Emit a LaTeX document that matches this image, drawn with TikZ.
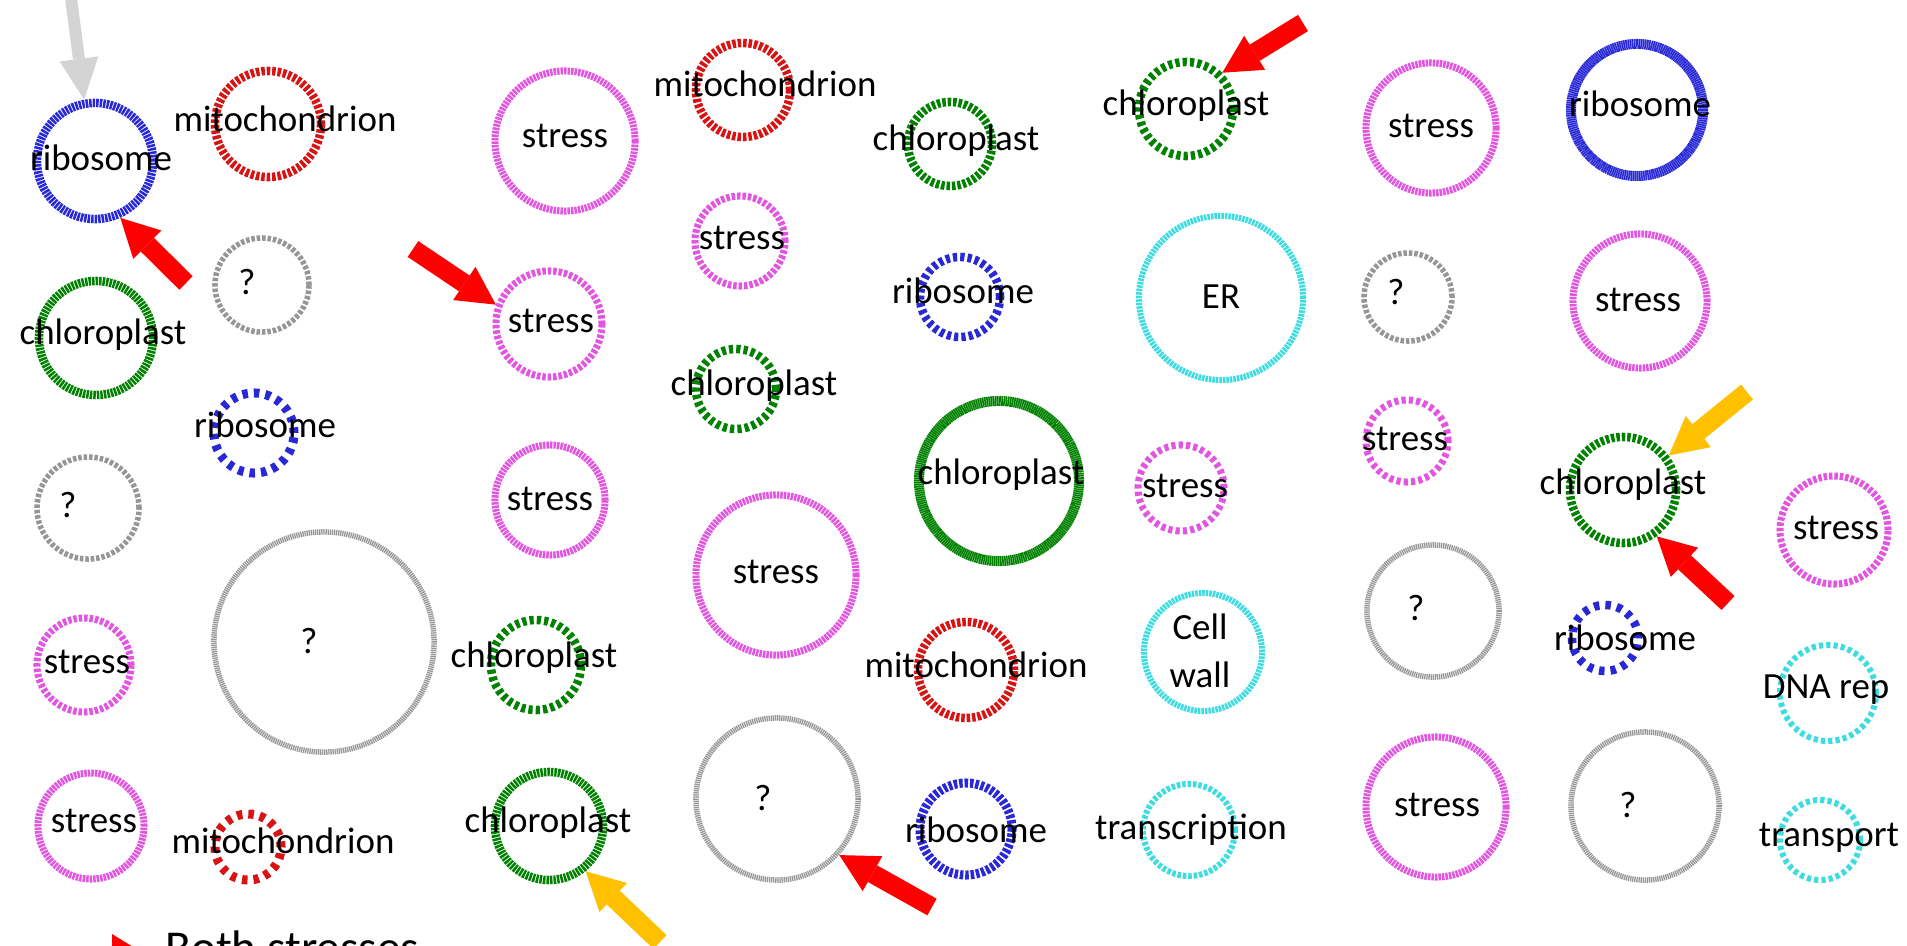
\documentclass[tikz,border=0pt]{standalone}
\usepackage{fontspec}
\setmainfont{Carlito}
\usetikzlibrary{arrows.meta}

\definecolor{ribblue}{RGB}{40,40,215}
\definecolor{mitred}{RGB}{215,20,20}
\definecolor{chlgreen}{RGB}{0,130,0}
\definecolor{strmag}{RGB}{225,85,225}
\definecolor{unkgray}{RGB}{150,150,150}
\definecolor{othcyan}{RGB}{60,220,225}
\definecolor{arrred}{RGB}{255,0,0}
\definecolor{arrgold}{RGB}{255,192,0}
\definecolor{arrgray}{RGB}{212,212,212}

\begin{document}
\begin{tikzpicture}[x=0.01cm, y=-0.01cm]
  \tikzset{
    ring/.style={circle, draw, inner sep=0pt, line cap=butt, minimum size=#1*0.02cm},
    ribo/.style={draw=ribblue, line width=0.085cm},
    mito/.style={draw=mitred, line width=0.085cm},
    chlo/.style={draw=chlgreen, line width=0.085cm},
    strs/.style={draw=strmag, line width=0.07cm},
    unkn/.style={draw=unkgray, line width=0.055cm},
    misc/.style={draw=othcyan, line width=0.06cm},
    tickS/.style={dash pattern=on 0.016cm off 0.005cm},
    tickA/.style={dash pattern=on 0.013cm off 0.008cm},
    tickB/.style={dash pattern=on 0.025cm off 0.01cm},
    tickC/.style={dash pattern=on 0.035cm off 0.019cm},
    tickD/.style={dash pattern=on 0.042cm off 0.031cm},
    tickE/.style={dash pattern=on 0.055cm off 0.06cm},
    lbl/.style={font=\fontsize{10.5pt}{11.6pt}\selectfont, inner sep=0pt, anchor=base},
    pointer/.style={line width=0.19cm, -{Triangle[length=0.38cm, width=0.40cm, line width=0pt]}},
    faintpointer/.style={draw=arrgray, line width=0.12cm, -{Triangle[length=0.41cm, width=0.39cm, line width=0pt]}}
  }

  \useasboundingbox (0,0) rectangle (1907,946);
  \clip (0,0) rectangle (1907,946);
  \fill[white] (0,0) rectangle (1907,946);

  % Column 1
  \node[ring=58, ribo, tickB] (rib1) at (95,161) {};
  \node[lbl] (rib1_txt) at (101,171) {ribosome};
  \node[ring=57, chlo, tickB] (chl1) at (96,338) {};
  \node[lbl] (chl1_txt) at (103,344) {chloroplast};
  \node[ring=51, unkn, tickC] (unk1) at (88,508) {};
  \node[lbl] (unk1_txt) at (68,517) {?};
  \node[ring=47, strs, tickC] (str1) at (84,665) {};
  \node[lbl] (str1_txt) at (87,673) {stress};
  \node[ring=53, strs, tickB] (str2) at (91,826) {};
  \node[lbl] (str2_txt) at (94,832) {stress};

  % Column 2
  \node[ring=53, mito, tickC] (mit1) at (268,124) {};
  \node[lbl] (mit1_txt) at (285,132) {mitochondrion};
  \node[ring=47, unkn, tickC] (unk2) at (262,285) {};
  \node[lbl] (unk2_txt) at (247,295) {?};
  \node[ring=40, ribo, tickE, line width=0.09cm] (rib2) at (254,433) {};
  \node[lbl] (rib2_txt) at (265,437) {ribosome};
  \node[ring=110, unkn, tickA] (unk3) at (324,642) {};
  \node[lbl] (unk3_txt) at (309,653) {?};
  \node[ring=33, mito, tickE, line width=0.09cm] (mit2) at (248,847) {};
  \node[lbl] (mit2_txt) at (283,853) {mitochondrion};

  % Column 3
  \node[ring=70, strs, tickB] (str3) at (565,141) {};
  \node[lbl] (str3_txt) at (565,148) {stress};
  \node[ring=53, strs, tickC] (str4) at (549,324) {};
  \node[lbl] (str4_txt) at (551,333) {stress};
  \node[ring=55, strs, tickB] (str5) at (550,500) {};
  \node[lbl] (str5_txt) at (550,510) {stress};
  \node[ring=45, chlo, tickD] (chl2) at (536,665) {};
  \node[lbl] (chl2_txt) at (534,667) {chloroplast};
  \node[ring=54, chlo, tickB] (chl3) at (549,826) {};
  \node[lbl] (chl3_txt) at (548,832) {chloroplast};

  % Column 4
  \node[ring=47, mito, tickC] (mit3) at (743,90) {};
  \node[lbl] (mit3_txt) at (765,97) {mitochondrion};
  \node[ring=45, strs, tickC] (str6) at (740,241) {};
  \node[lbl] (str6_txt) at (742,250) {stress};
  \node[ring=40, chlo, tickD] (chl4) at (736,389) {};
  \node[lbl] (chl4_txt) at (754,395) {chloroplast};
  \node[ring=80, strs, tickB] (str7) at (776,575) {};
  \node[lbl] (str7_txt) at (776,583) {stress};
  \node[ring=81, unkn, tickA] (unk4) at (777,799) {};
  \node[lbl] (unk4_txt) at (763,810) {?};

  % Column 5
  \node[ring=42, chlo, tickC] (chl5) at (950,144) {};
  \node[lbl] (chl5_txt) at (956,151) {chloroplast};
  \node[ring=40, ribo, tickD] (rib3) at (960,297) {};
  \node[lbl] (rib3_txt) at (963,304) {ribosome};
  \node[ring=80, chlo, tickS, line width=0.10cm] (chl6) at (999,481) {};
  \node[lbl] (chl6_txt) at (1001,484) {chloroplast};
  \node[ring=48, mito, tickC] (mit4) at (966,670) {};
  \node[lbl] (mit4_txt) at (976,677) {mitochondrion};
  \node[ring=46, ribo, tickC, line width=0.09cm] (rib4) at (966,829) {};
  \node[lbl] (rib4_txt) at (976,842) {ribosome};

  % Column 6
  \node[ring=47, chlo, tickD] (chl7) at (1186,109) {};
  \node[lbl] (chl7_txt) at (1186,116) {chloroplast};
  \node[ring=82, misc, tickB] (er) at (1221,298) {};
  \node[lbl] (er_txt) at (1221,308) {ER};
  \node[ring=43, strs, tickD] (str8) at (1181,488) {};
  \node[lbl] (str8_txt) at (1185,497) {stress};
  \node[ring=59, misc, tickB] (wall) at (1203,652) {};
  \node[lbl, anchor=center, align=center, font=\fontsize{10.5pt}{13.8pt}\selectfont] (wall_txt) at (1200,651) {Cell\\wall};
  \node[ring=46, misc, tickC] (trsc) at (1189,830) {};
  \node[lbl] (trsc_txt) at (1191,839) {transcription};

  % Column 7
  \node[ring=65, strs, tickB] (str9) at (1431,128) {};
  \node[lbl] (str9_txt) at (1431,138) {stress};
  \node[ring=44, unkn, tickC] (unk5) at (1408,297) {};
  \node[lbl] (unk5_txt) at (1396,305) {?};
  \node[ring=41, strs, tickD] (str10) at (1407,441) {};
  \node[lbl] (str10_txt) at (1405,450) {stress};
  \node[ring=66, unkn, tickA] (unk6) at (1433,611) {};
  \node[lbl] (unk6_txt) at (1416,620) {?};
  \node[ring=70, strs, tickB] (str11) at (1436,807) {};
  \node[lbl] (str11_txt) at (1437,816) {stress};

  % Column 8
  \node[ring=66, ribo, tickS, line width=0.10cm] (rib5) at (1637,110) {};
  \node[lbl] (rib5_txt) at (1640,117) {ribosome};
  \node[ring=67, strs, tickB] (str12) at (1640,301) {};
  \node[lbl] (str12_txt) at (1638,312) {stress};
  \node[ring=53, chlo, tickC] (chl8) at (1623,490) {};
  \node[lbl] (chl8_txt) at (1623,494) {chloroplast};
  \node[ring=33, ribo, tickE] (rib6) at (1605,638) {};
  \node[lbl] (rib6_txt) at (1625,650) {ribosome};
  \node[ring=74, unkn, tickA] (unk7) at (1645,806) {};
  \node[lbl] (unk7_txt) at (1628,817) {?};

  % Column 9
  \node[ring=54, strs, tickC] (str13) at (1834,530) {};
  \node[lbl] (str13_txt) at (1836,539) {stress};
  \node[ring=48, misc, tickD] (dna) at (1828,693) {};
  \node[lbl] (dna_txt) at (1826,698) {DNA rep};
  \node[ring=40, misc, tickD] (trsp) at (1820,840) {};
  \node[lbl] (trsp_txt) at (1829,846) {transport};

  % Pointers
  \coordinate (rib1_top) at (70,-10);
  \draw[faintpointer] (rib1_top) -- (rib1.100);
  \coordinate (rib1_tail) at (186,283);
  \draw[pointer, arrred] (rib1_tail) -- (rib1.-66);
  \coordinate (str4_tail) at (413,249);
  \draw[pointer, arrred] (str4_tail) -- (str4.160);
  \coordinate (chl3_tail) at (660,942);
  \draw[pointer, arrgold] (chl3_tail) -- (chl3.-51);
  \coordinate (unk4_tail) at (932,907);
  \draw[pointer, arrred] (unk4_tail) -- (unk4.-42);
  \coordinate (chl7_tail) at (1303,23);
  \draw[pointer, arrred] (chl7_tail) -- (chl7.45);
  \coordinate (chl8_top) at (1747,392);
  \draw[pointer, arrgold] (chl8_top) -- (chl8.37);
  \coordinate (chl8_tail) at (1728,603);
  \draw[pointer, arrred] (chl8_tail) -- (chl8.-54);

  % Key
  \fill[arrred] (112,934) -- (138,950) -- (112,966) -- cycle;
  \node[font=\fontsize{13.4pt}{16pt}\selectfont, inner sep=0pt, anchor=base west] (key_txt) at (165,963) {Both stresses};

\end{tikzpicture}
\end{document}
